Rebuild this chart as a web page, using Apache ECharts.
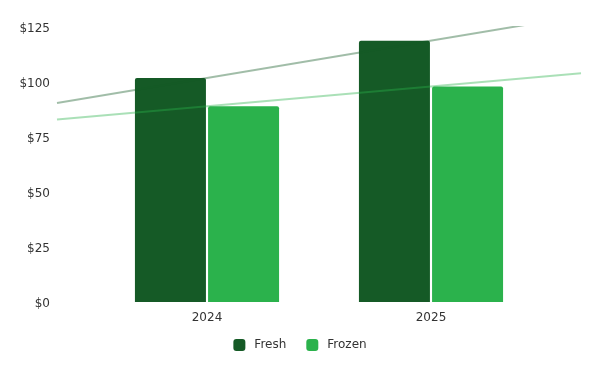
<!DOCTYPE html>
<html><head><meta charset="utf-8">
<script src="https://cdn.jsdelivr.net/npm/echarts@6/dist/echarts.min.js"></script>
<style>html,body{margin:0;padding:0;background:#fff}#c{width:600px;height:371px}</style>
</head><body><div id="c"></div>
<script>
var categories = ['2024', '2025'];
var years = [2024, 2025];
var fresh = [101.8, 118.8];
var frozen = [89, 98];
var yTicks = [0, 25, 50, 75, 100, 125];

var colFresh = '#155a26';
var colFrozen = '#2bb24c';

// extend trend (linear fit through series values) across the wider trend axis
var xMin = 2024 - 150 / 224, xMax = 2025 + 150 / 224;
function trend(vals) {
  var n = vals.length, sx = 0, sy = 0, sxy = 0, sxx = 0;
  for (var i = 0; i < n; i++) { sx += years[i]; sy += vals[i]; sxy += years[i] * vals[i]; sxx += years[i] * years[i]; }
  var b = (n * sxy - sx * sy) / (n * sxx - sx * sx);
  var a = (sy - b * sx) / n;
  return [[xMin, a + b * xMin], [xMax, a + b * xMax]];
}

var chart = echarts.init(document.getElementById('c'));
var font = '"DejaVu Sans", Verdana, sans-serif';
chart.setOption({
  animation: false,
  textStyle: { fontFamily: font },
  legend: {
    data: ['Fresh', 'Frozen'],
    bottom: 15,
    left: 'center',
    icon: 'roundRect',
    itemWidth: 12, itemHeight: 12, itemGap: 20,
    textStyle: { fontFamily: font, fontSize: 12, color: '#333', padding: [0, 0, 0, 4] }
  },
  grid: [
    { left: 95, right: 57, top: 27, bottom: 69, containLabel: false },
    { left: 57, right: 19, top: 27, bottom: 69, containLabel: false }
  ],
  xAxis: [
    { type: 'category', gridIndex: 0, data: categories,
      axisLine: { show: false }, axisTick: { show: false },
      axisLabel: { fontFamily: font, fontSize: 12, color: '#333', margin: 10 } },
    { type: 'value', gridIndex: 1, min: xMin, max: xMax, show: false }
  ],
  yAxis: [
    { type: 'value', gridIndex: 0, min: 0, max: 125, interval: 25, show: false },
    { type: 'value', gridIndex: 1, min: 0, max: 125, interval: 25,
      axisLine: { show: false }, axisTick: { show: false }, splitLine: { show: false },
      axisLabel: { fontFamily: font, fontSize: 12, color: '#333', margin: 7,
        verticalAlign: 'top', lineHeight: 4,
        formatter: function (v) { return '$' + v; } } }
  ],
  series: [
    { name: 'Fresh', type: 'bar', xAxisIndex: 0, yAxisIndex: 0, data: fresh,
      barWidth: 71, barGap: '3%', itemStyle: { color: colFresh, borderRadius: [2, 2, 0, 0] }, z: 2 },
    { name: 'Frozen', type: 'bar', xAxisIndex: 0, yAxisIndex: 0, data: frozen,
      barWidth: 71, barGap: '3%', itemStyle: { color: colFrozen, borderRadius: [2, 2, 0, 0] }, z: 2 },
    { name: 'Fresh trend', type: 'line', xAxisIndex: 1, yAxisIndex: 1, data: trend(fresh),
      symbol: 'none', silent: true, clip: true,
      lineStyle: { color: colFresh, width: 2, opacity: 0.4 }, z: 3 },
    { name: 'Frozen trend', type: 'line', xAxisIndex: 1, yAxisIndex: 1, data: trend(frozen),
      symbol: 'none', silent: true, clip: true,
      lineStyle: { color: colFrozen, width: 2, opacity: 0.4 }, z: 3 }
  ]
});
</script></body></html>
